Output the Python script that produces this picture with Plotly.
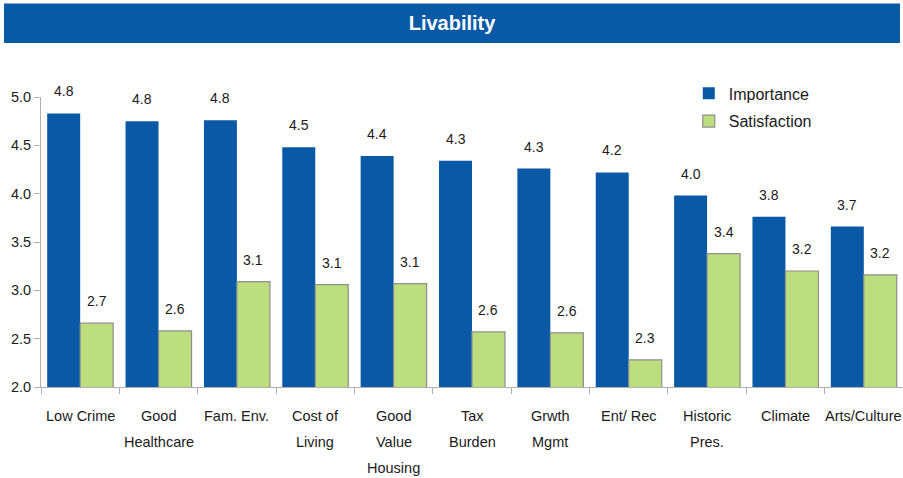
import plotly.graph_objects as go

# Survey results: livability factors
categories = ["Low Crime", "Good|Healthcare", "Fam. Env.", "Cost of|Living",
              "Good|Value|Housing", "Tax|Burden", "Grwth|Mgmt", "Ent/ Rec",
              "Historic|Pres.", "Climate", "Arts/Culture"]
importance = [4.83, 4.75, 4.76, 4.48, 4.39, 4.34, 4.26, 4.22, 3.98, 3.76, 3.66]
satisfaction = [2.66, 2.58, 3.09, 3.06, 3.07, 2.57, 2.56, 2.28, 3.38, 3.20, 3.16]
y_ticks = [2.0, 2.5, 3.0, 3.5, 4.0, 4.5, 5.0]

BLUE = "#0A59A7"
GREEN = "#BCDE7E"
FONT = "Liberation Sans, Arial, sans-serif"
INK = "#1a1a1a"

idx = list(range(len(categories)))

fig = go.Figure()
fig.add_trace(go.Bar(x=idx, y=importance, name="Importance", legendgroup="imp",
                     marker=dict(color=BLUE, line=dict(width=0))))
fig.add_trace(go.Bar(x=idx, y=satisfaction, name="Satisfaction", legendgroup="sat",
                     marker=dict(color=GREEN, line=dict(color="#8E8E8E", width=1.2))))

# value labels above each bar
bar_half = 0.21
for i, (a, b) in enumerate(zip(importance, satisfaction)):
    for xv, yv in ((i - bar_half, a), (i + bar_half, b)):
        fig.add_annotation(x=xv, y=yv, text=f"{yv:.1f}", showarrow=False,
                           yanchor="middle", yshift=22,
                           font=dict(family=FONT, size=14, color=INK))

# category labels, one line at a time
for i, lab in enumerate(categories):
    for j, line in enumerate(lab.split("|")):
        fig.add_annotation(x=i, y=0, yref="paper", text=line, showarrow=False,
                           yanchor="middle", yshift=-28.5 - 26.3 * j,
                           font=dict(family=FONT, size=14.5, color=INK))

# title banner
fig.add_shape(type="rect", xref="paper", yref="paper",
              x0=-0.0429, x1=0.9965, y0=1.1858, y1=1.3224,
              fillcolor="#0859A6", line=dict(width=0), layer="below")

fig.update_layout(
    width=903, height=478,
    margin=dict(l=41, r=0, t=97, b=91),
    paper_bgcolor="white", plot_bgcolor="white",
    barmode="group", bargap=0.158, bargroupgap=0,
    title=dict(text="<b>Livability</b>", x=0.5006, xanchor="center",
               y=1 - 22.5 / 478, yanchor="middle",
               font=dict(family=FONT, size=20, color="white")),
    showlegend=True,
    legend=dict(x=0.7515, xanchor="left", y=1.071, yanchor="top",
                tracegroupgap=4,
                font=dict(family=FONT, size=16, color=INK),
                bgcolor="rgba(0,0,0,0)"),
    font=dict(family=FONT, color=INK),
)
fig.update_xaxes(
    type="linear", range=[-0.5, len(categories) - 0.5],
    tickmode="array", tickvals=[i - 0.5 for i in range(len(categories) + 1)],
    showticklabels=False, ticks="outside", ticklen=6, tickcolor="#B0B0B0",
    showline=True, linecolor="#B0B0B0", linewidth=1, showgrid=False, zeroline=False,
)
fig.update_yaxes(
    range=[2.0, 5.0], tickmode="array", tickvals=y_ticks,
    ticktext=[f"{v:.1f}" for v in y_ticks],
    ticks="outside", ticklen=6, tickcolor="#B0B0B0",
    showline=True, linecolor="#B0B0B0", linewidth=1, showgrid=False, zeroline=False,
    tickfont=dict(family=FONT, size=14.5, color=INK),
)

fig.write_html("out.html")
